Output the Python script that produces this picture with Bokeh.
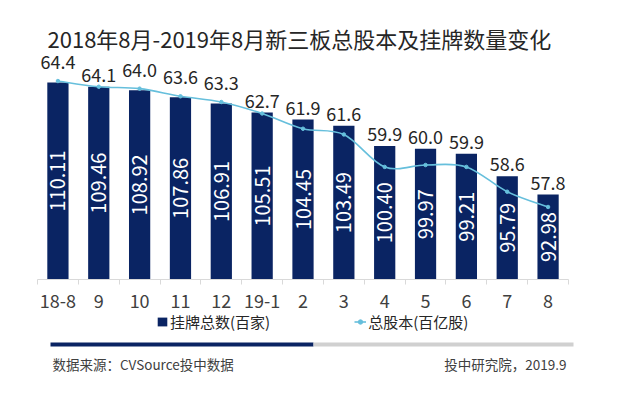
import math
from bokeh.plotting import figure
from bokeh.models import (Range1d, FixedTicker, Label, BoxAnnotation, Legend,
                          LegendItem, ColumnDataSource)
from bokeh.core.properties import value
from bokeh.embed import file_html
from bokeh.resources import INLINE

# ---------------- data ----------------
months = ["18-8", "9", "10", "11", "12", "19-1", "2", "3", "4", "5", "6", "7", "8"]
listings = [110.11, 109.46, 108.92, 107.86, 106.91, 105.51, 104.45, 103.49,
            100.40, 99.97, 99.21, 95.79, 92.98]          # 挂牌总数(百家)
shares = [64.4, 64.1, 64.0, 63.6, 63.3, 62.7, 61.9, 61.6,
          59.9, 60.0, 59.9, 58.6, 57.8]                   # 总股本(百亿股)

title_text = "2018年8月-2019年8月新三板总股本及挂牌数量变化"
bar_name = "挂牌总数(百家)"
line_name = "总股本(百亿股)"
source_text = "数据来源：CVSource投中数据"
credit_text = "投中研究院，2019.9"

BAR_MIN, BAR_MAX = 80, 115
LINE_MIN, LINE_MAX = 54, 66

NAVY = "#0a2463"
LINE = "#66bfdc"
GREY = "#d0d0d0"
TXT = "#262626"
FONT = "Noto Sans CJK SC"

idx = list(range(len(months)))

# ---------------- canvas geometry (pixels) ----------------
W, H = 623, 399
PL, PR, PT, PB = 37, 568, 50, 279          # plot area inside the canvas
ncat = len(months)
ppx = (PR - PL) / ncat                     # pixels per category
x_start = -0.5 - PL / ppx
x_end = ncat - 0.5 + (W - PR) / ppx
bpu = (PB - PT) / (BAR_MAX - BAR_MIN)      # pixels per bar unit
lpu = (PB - PT) / (LINE_MAX - LINE_MIN)    # pixels per line unit

p = figure(width=W, height=H, output_backend="svg", toolbar_location=None,
           title=None,
           x_range=Range1d(x_start, x_end),
           y_range=Range1d(BAR_MIN - (H - PB) / bpu, BAR_MAX + PT / bpu),
           y_axis_location=None, min_border=0,
           min_border_left=0, min_border_right=0,
           min_border_top=0, min_border_bottom=0)
p.outline_line_color = None
p.grid.visible = False
p.background_fill_color = "white"
p.border_fill_color = "white"
p.extra_y_ranges = {"line": Range1d(LINE_MIN - (H - PB) / lpu, LINE_MAX + PT / lpu)}

# x axis drawn at the bar baseline; labels at centres, ticks at boundaries
ax = p.xaxis[0]
ax.fixed_location = BAR_MIN
ax.bounds = (-0.5, ncat - 0.5)
ax.ticker = FixedTicker(ticks=idx, minor_ticks=[i - 0.5 for i in range(ncat + 1)])
ax.major_label_overrides = {i: m for i, m in zip(idx, months)}
ax.major_tick_in = 0
ax.major_tick_out = 0
ax.minor_tick_in = 0
ax.minor_tick_out = 5
ax.minor_tick_line_color = "#d9d9d9"
ax.axis_line_color = "#d9d9d9"
ax.major_label_text_font = FONT
ax.major_label_text_font_size = "18px"
ax.major_label_text_color = "#404040"
ax.major_label_standoff = 9

# ---------------- bars ----------------
bar_src = ColumnDataSource(dict(
    x=idx, top=listings,
    mid=[(v + BAR_MIN) / 2 for v in listings],
    txt=["%.2f" % v for v in listings]))
bars = p.vbar(x="x", top="top", bottom=BAR_MIN, width=0.52, fill_color=NAVY,
              line_color=None, source=bar_src)
p.text(x="x", y="mid", text="txt", angle=math.pi / 2, text_align="center",
       text_baseline="middle", text_color="white", text_font=value(FONT),
       text_font_size="20px", source=bar_src)

# ---------------- smoothed line (cubic Bezier segments) ----------------
n = len(shares)
seg = dict(x0=[], y0=[], x1=[], y1=[], cx0=[], cy0=[], cx1=[], cy1=[])
for i in range(n - 1):
    a = max(i - 1, 0)
    d = min(i + 2, n - 1)
    seg["x0"].append(idx[i]); seg["y0"].append(shares[i])
    seg["x1"].append(idx[i + 1]); seg["y1"].append(shares[i + 1])
    seg["cx0"].append(idx[i] + (idx[i + 1] - idx[a]) / 6)
    seg["cy0"].append(shares[i] + (shares[i + 1] - shares[a]) / 6)
    seg["cx1"].append(idx[i + 1] - (idx[d] - idx[i]) / 6)
    seg["cy1"].append(shares[i + 1] - (shares[d] - shares[i]) / 6)
bez = p.bezier(x0="x0", y0="y0", x1="x1", y1="y1", cx0="cx0", cy0="cy0",
               cx1="cx1", cy1="cy1", source=ColumnDataSource(seg),
               y_range_name="line", line_color=LINE, line_width=1.6)
pts = p.scatter(x=idx, y=shares, y_range_name="line", marker="circle", size=3.5,
                fill_color=LINE, line_color=LINE)

# line value labels placed above whichever of bar / line is higher
scale = (LINE_MAX - LINE_MIN) / (BAR_MAX - BAR_MIN)
anchor, offs = [], []
for s, v in zip(shares, listings):
    bar_eq = LINE_MIN + (v - BAR_MIN) * scale
    if s >= bar_eq:
        anchor.append(s); offs.append(-19)
    else:
        anchor.append(bar_eq); offs.append(-12)
p.text(x=idx, y=anchor, text=["%.1f" % s for s in shares], y_offset=offs,
       y_range_name="line", text_align="center", text_baseline="middle",
       text_color=TXT, text_font=value(FONT), text_font_size="18px")

# ---------------- legend ----------------
legend = Legend(items=[LegendItem(label=bar_name, renderers=[bars]),
                       LegendItem(label=line_name, renderers=[bez, pts])],
                orientation="horizontal", location=(156, H - 332),
                padding=0, margin=0, spacing=84, label_standoff=2,
                glyph_width=12, glyph_height=11, label_height=20,
                label_text_font=FONT, label_text_font_size="15px",
                label_text_color=TXT, border_line_color=None,
                background_fill_alpha=0)
p.add_layout(legend, "center")

# ---------------- title / divider / footer ----------------
p.add_layout(Label(x=47, y=H - 37, x_units="screen", y_units="screen",
                   text=title_text, text_font=FONT, text_font_size="22px",
                   text_color=TXT, text_baseline="middle"))
p.add_layout(BoxAnnotation(left=50, right=313, top=H - 342, bottom=H - 346,
                           left_units="screen", right_units="screen",
                           top_units="screen", bottom_units="screen",
                           fill_color=NAVY, fill_alpha=1, line_color=None))
p.add_layout(BoxAnnotation(left=313, right=573, top=H - 342, bottom=H - 346,
                           left_units="screen", right_units="screen",
                           top_units="screen", bottom_units="screen",
                           fill_color=GREY, fill_alpha=1, line_color=None))
p.add_layout(Label(x=52, y=H - 363, x_units="screen", y_units="screen",
                   text=source_text, text_font=FONT, text_font_size="13.5px",
                   text_color="#404040", text_baseline="middle"))
p.add_layout(Label(x=566, y=H - 363, x_units="screen", y_units="screen",
                   text=credit_text, text_font=FONT, text_font_size="13.5px",
                   text_color="#404040", text_baseline="middle",
                   text_align="right"))

open("out.html", "w").write(file_html(p, INLINE))
